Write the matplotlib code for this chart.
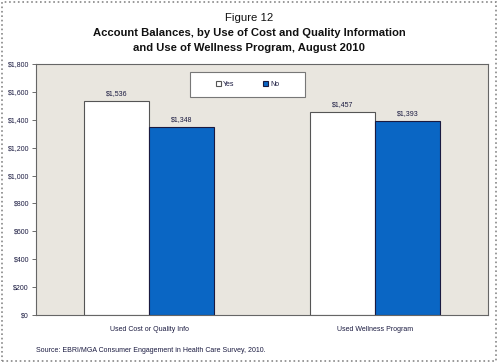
import matplotlib.pyplot as plt
import matplotlib.patches as mpatches
import numpy as np

# Chart data
categories = ["Used Cost or Quality Info", "Used Wellness Program"]
yes_values = [1536, 1457]
no_values = [1348, 1393]
series_names = ["Yes", "No"]

plt.rcParams["font.family"] = ["Liberation Sans", "DejaVu Sans"]

fig = plt.figure(figsize=(4.98, 3.63), dpi=100)
ax = fig.add_axes([36 / 498, 1 - 315 / 363, 452 / 498, 251 / 363])

# Stippled-looking plot background
ax.set_facecolor("#e9e6df")

x = np.arange(len(categories))
width = 0.289

bars_yes = ax.bar(x - width / 2, yes_values, width, color="white",
                  edgecolor="#555555", linewidth=0.8, label=series_names[0])
bars_no = ax.bar(x + width / 2, no_values, width, color="#0a66c4",
                 edgecolor="#1a1a40", linewidth=0.8, label=series_names[1])

# Value labels above bars
for bars in (bars_yes, bars_no):
    for b in bars:
        ax.text(b.get_x() + b.get_width() / 2, b.get_height() + 25,
                "${:,}".format(int(b.get_height())),
                ha="center", va="bottom", fontsize=5, color="#1a1a40")

ax.set_xlim(-0.5, 1.5)
ax.set_ylim(0, 1800)
ax.set_yticks(np.arange(0, 1801, 200))
ax.set_yticklabels(["${:,}".format(v) for v in range(0, 1801, 200)],
                   fontsize=5, color="#1a1a40")
ax.set_xticks(x)
ax.set_xticklabels(categories, fontsize=5, color="#1a1a40")
ax.tick_params(axis="y", length=3, width=0.6, color="#555555", pad=2)
ax.tick_params(axis="x", length=0, pad=8)

for side in ["top", "right", "left", "bottom"]:
    ax.spines[side].set_color("#666666")
    ax.spines[side].set_linewidth(0.8)

# Legend box (drawn separately) spans roughly x 190-305 px, y 72-97 px
box = mpatches.Rectangle((154 / 452, 218 / 251), 115 / 452, 25 / 251,
                         transform=ax.transAxes, facecolor="white",
                         edgecolor="#777777", linewidth=0.8, zorder=4)
ax.add_patch(box)
leg = ax.legend(loc="center", bbox_to_anchor=(211.5 / 452, 230.5 / 251),
                ncol=2, fontsize=5, frameon=False, handlelength=0.7,
                handleheight=0.7, columnspacing=4.2,
                handletextpad=0.3, borderaxespad=0)
leg.set_zorder(5)
for t in leg.get_texts():
    t.set_color("#1a1a40")

# Titles
fig.text(0.5, 1 - 18 / 363, "Figure 12", ha="center", va="center",
         fontsize=8.2, color="#111111")
fig.text(0.5, 1 - 33 / 363, "Account Balances, by Use of Cost and Quality Information",
         ha="center", va="center", fontsize=8.1, fontweight="bold", color="#111111")
fig.text(0.5, 1 - 48 / 363, "and Use of Wellness Program, August 2010",
         ha="center", va="center", fontsize=8.1, fontweight="bold", color="#111111")

# Source note
fig.text(36 / 498, 1 - 351 / 363,
         "Source: EBRI/MGA Consumer Engagement in Health Care Survey, 2010.",
         ha="left", va="center", fontsize=5, color="#1a1a40")

# Dotted outer frame
frame = mpatches.Rectangle((2 / 498, 2 / 363), 494 / 498, 359 / 363,
                           transform=fig.transFigure, fill=False,
                           edgecolor="#888888", linewidth=1.2, linestyle=":")
fig.patches.append(frame)

fig.savefig("out.png", dpi=100)
